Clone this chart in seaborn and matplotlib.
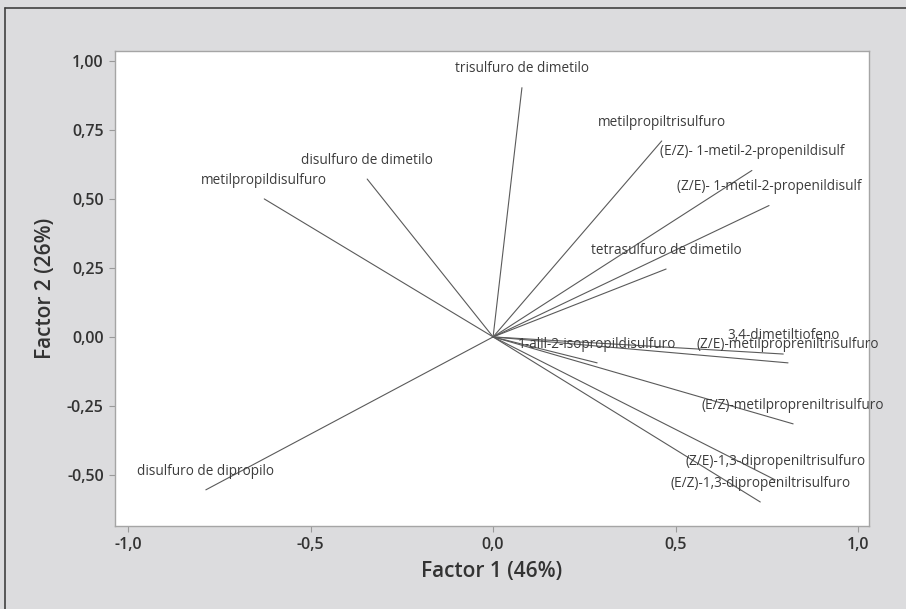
import matplotlib
matplotlib.use("Agg")
import matplotlib.pyplot as plt
import matplotlib.ticker as mticker
from matplotlib.lines import Line2D
import numpy as np
import pandas as pd
import seaborn as sns

# Factor loadings (Factor 1, Factor 2) for each volatile compound
compounds = [
    "trisulfuro de dimetilo",
    "metilpropiltrisulfuro",
    "(E/Z)- 1-metil-2-propenildisulf",
    "(Z/E)- 1-metil-2-propenildisulf",
    "tetrasulfuro de dimetilo",
    "disulfuro de dimetilo",
    "metilpropildisulfuro",
    "disulfuro de dipropilo",
    "3,4-dimetiltiofeno",
    "(Z/E)-metilpropreniltrisulfuro",
    "1-alil-2-isopropildisulfuro",
    "(E/Z)-metilpropreniltrisulfuro",
    "(Z/E)-1,3-dipropeniltrisulfuro",
    "(E/Z)-1,3-dipropeniltrisulfuro",
]
factor1 = [0.079, 0.462, 0.709, 0.756, 0.474, -0.345, -0.627, -0.787,
           0.795, 0.808, 0.285, 0.822, 0.773, 0.732]
factor2 = [0.903, 0.710, 0.603, 0.476, 0.246, 0.572, 0.500, -0.554,
           -0.062, -0.094, -0.094, -0.315, -0.518, -0.598]

x_ticks = [-1.0, -0.5, 0.0, 0.5, 1.0]
y_ticks = [-0.50, -0.25, 0.00, 0.25, 0.50, 0.75, 1.00]

# each loading vector runs from the origin to its (factor1, factor2) point
rows = []
for name, f1, f2 in zip(compounds, factor1, factor2):
    rows.append({"compound": name, "step": 0, "f1": 0.0, "f2": 0.0})
    rows.append({"compound": name, "step": 1, "f1": f1, "f2": f2})
vectors = pd.DataFrame(rows)

sns.set_theme(style="white")
plt.rcParams["font.family"] = ["Open Sans", "DejaVu Sans"]

bg = "#dcdcde"
fig = plt.figure(figsize=(9.06, 6.09), dpi=100, facecolor=bg)
ax = fig.add_axes([0.1269, 0.1363, 0.8323, 0.78])
ax.set_facecolor("white")

sns.lineplot(data=vectors, x="f1", y="f2", units="compound", estimator=None,
             sort=False, color="#5a5a5a", linewidth=0.8, ax=ax, legend=False)

for name, f1, f2 in zip(compounds, factor1, factor2):
    ax.annotate(name, xy=(f1, f2), xytext=(0, 13.5), textcoords="offset points",
                ha="center", va="center", fontsize=9.8, color="#3c3c3c")

ax.set_xlim(-1.036, 1.030)
ax.set_ylim(-0.685, 1.036)
ax.set_xticks(x_ticks)
ax.set_yticks(y_ticks)
ax.xaxis.set_major_formatter(mticker.FuncFormatter(lambda v, p: f"{v:.1f}".replace(".", ",")))
ax.yaxis.set_major_formatter(mticker.FuncFormatter(lambda v, p: f"{v:.2f}".replace(".", ",")))
ax.tick_params(axis="both", direction="out", length=4, width=0.8, color="#9a9a9a",
               labelsize=11.5, labelcolor="#333333", pad=4, bottom=True, left=True)
for lab in ax.get_xticklabels() + ax.get_yticklabels():
    lab.set_fontweight("semibold")
for s in ax.spines.values():
    s.set_color("#a5a5a5")
    s.set_linewidth(1.0)

ax.set_xlabel("Factor 1 (46%)", fontsize=15, fontweight="semibold", color="#333333", labelpad=6)
ax.set_ylabel("Factor 2 (26%)", fontsize=15, fontweight="semibold", color="#333333", labelpad=8)

# outer panel frame (left and top edges)
fig.add_artist(Line2D([5 / 906, 5 / 906], [0, 1 - 8 / 609], transform=fig.transFigure,
                      color="#404040", linewidth=1.2))
fig.add_artist(Line2D([5 / 906, 1], [1 - 8 / 609, 1 - 8 / 609], transform=fig.transFigure,
                      color="#404040", linewidth=1.2))

fig.savefig("out.png", dpi=100, facecolor=bg)
